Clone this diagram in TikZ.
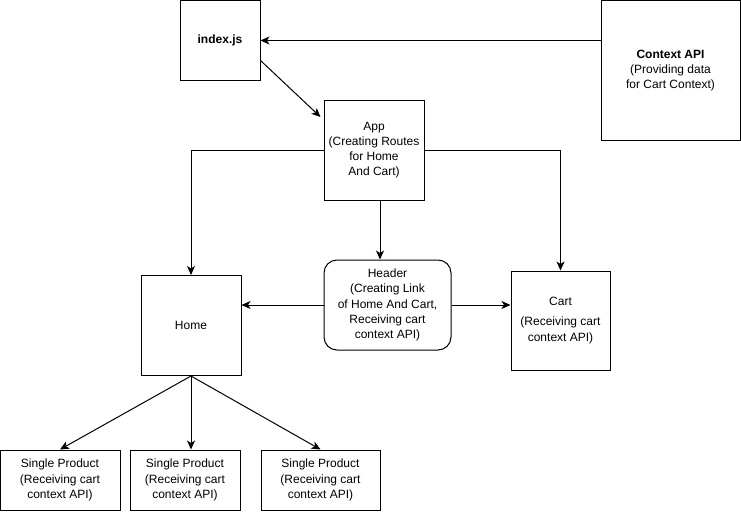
\documentclass[tikz,border=0pt]{standalone}
\usepackage{fontspec}
\setmainfont{Liberation Sans}
\usetikzlibrary{arrows.meta}

\begin{document}
\begin{tikzpicture}[x=1pt,y=-1pt,
	box/.style={draw,line width=1pt,align=center,inner sep=0pt,font=\fontsize{12}{15.2}\selectfont},
	arr/.style={line width=1pt,-{Stealth[length=9pt,width=8pt,inset=2.5pt]}}]
	%
	\def\prody{480}
	\def\prodh{60pt}
	%
	\useasboundingbox (0,0) rectangle (741,511);
	%
	\node[box,minimum width=80pt,minimum height=79pt] (idx) at (220,40.5) {\textbf{index.js}};
	\node[box,minimum width=139pt,minimum height=139pt] (ctx) at (670.5,70.5)
		{\textbf{Context API}\\(Providing data\\for Cart Context)};
	\node[box,minimum width=100pt,minimum height=100pt] (app) at (374,150)
		{App\\(Creating Routes\\for Home\\And Cart)};
	\node[box,rounded corners=13pt,minimum width=127pt,minimum height=90pt] (hdr) at (387.5,305)
		{Header\\(Creating Link\\of Home And Cart,\\Receiving cart\\context API)};
	\node[box,minimum width=100pt,minimum height=100pt] (home) at (191,325.5) {Home};
	\node[box,minimum width=99pt,minimum height=99pt] (cart) at (560.5,320.5)
		{Cart\\[5pt](Receiving cart\\context API)};
	%
	\foreach \n/\x/\w in {1/60/120pt,2/185/110pt,3/320.5/119pt}%
		\node[box,minimum width=\w,minimum height=\prodh] (sp\n) at (\x,\prody)
			{Single Product\\(Receiving cart\\context API)};
	%
	\draw[arr] (ctx.west |- idx.east) -- (idx.east);
	\draw[arr] ([yshift=-20pt]idx.east) -- ([xshift=-3pt,yshift=33pt]app.west);
	\draw[arr] (app.west) -| (home.north);
	\draw[arr] (app.east) -| (cart.north);
	\draw[arr] ([xshift=6pt]app.south) -- ([xshift=6pt]app.south |- hdr.north);
	\draw[arr] (hdr.west) -- (hdr.west -| home.east);
	\draw[arr] (hdr.east) -- (hdr.east -| cart.west);
	\foreach \n in {1,3}
		\draw[arr] (home.south) -- (sp\n.north);
	\draw[arr] (home.south) -- (home.south |- sp2.north);
\end{tikzpicture}
\end{document}
